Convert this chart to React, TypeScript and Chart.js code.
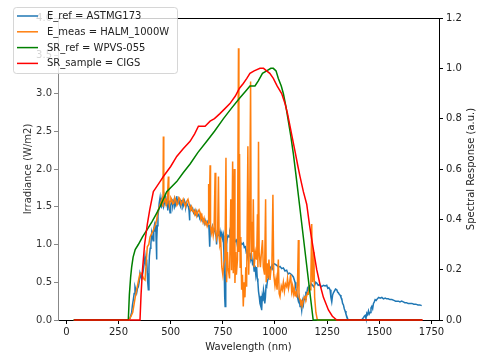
import { useEffect, useRef } from 'react';
import { Chart, registerables } from 'chart.js';

Chart.register(...registerables);

const seriesLabels = ['E_ref = ASTMG173', 'E_meas = HALM_1000W', 'SR_ref = WPVS-055', 'SR_sample = CIGS'];
const seriesColors = ['#1f77b4', '#ff7f0e', '#008000', '#ff0000'];

// [wavelength nm, irradiance W/m2]
const eRef: number[][] = [
  [35, 0], [300, 0], [305, 0.02], [309, 0.06], [313, 0.1], [317, 0.2], [321, 0.27], [325, 0.35], [329, 0.44], [333, 0.4], [337, 0.36], [341, 0.42], [345, 0.44], [349, 0.5], [353, 0.62], [357, 0.58], [361, 0.55], [365, 0.6], [369, 0.66], [373, 0.75], [377, 0.84], [381, 0.72], [385, 0.8], [388, 0.62], [390, 0.5], [393, 0.4], [396, 0.7], [398, 0.85], [402, 0.95], [405, 1.0], [409, 1.15], [412, 1.1], [416, 1.05], [419, 1.2], [422, 1.25], [425, 1.18], [428, 1.3], [430, 1.1], [432, 0.8], [434, 1.05], [436, 1.25], [439, 1.38], [442, 1.45], [445, 1.55], [449, 1.62], [452, 1.52], [456, 1.5], [459, 1.6], [462, 1.6], [466, 1.5], [470, 1.55], [473, 1.64], [476, 1.6], [479, 1.52], [481, 1.57], [484, 1.6], [486, 1.45], [488, 1.55], [490, 1.58], [494, 1.5], [497, 1.42], [500, 1.52], [503, 1.55], [506, 1.6], [510, 1.5], [513, 1.56], [517, 1.6], [520, 1.5], [523, 1.52], [526, 1.6], [529, 1.64], [532, 1.56], [535, 1.55], [538, 1.6], [541, 1.58], [545, 1.52], [548, 1.5], [551, 1.58], [555, 1.57], [559, 1.5], [563, 1.53], [566, 1.58], [570, 1.55], [573, 1.5], [577, 1.55], [581, 1.52], [585, 1.5], [588, 1.45], [590, 1.32], [592, 1.42], [595, 1.5], [600, 1.46], [605, 1.48], [610, 1.42], [615, 1.45], [620, 1.4], [625, 1.44], [630, 1.38], [635, 1.4], [640, 1.34], [645, 1.36], [651, 1.31], [657, 1.33], [661, 1.28], [665, 1.32], [670, 1.27], [675, 1.3], [679, 1.25], [683, 1.26], [687, 0.97], [690, 1.22], [695, 1.18], [700, 1.24], [705, 1.17], [710, 1.2], [714, 1.15], [718, 1.1], [720, 1.0], [723, 1.15], [727, 1.12], [730, 1.18], [734, 1.12], [737, 1.17], [741, 1.1], [745, 1.15], [749, 1.08], [752, 1.12], [755, 0.9], [757, 0.6], [759, 0.3], [761, 0.18], [764, 0.5], [766, 0.85], [768, 1.0], [771, 1.08], [775, 1.12], [780, 1.1], [784, 1.15], [790, 1.08], [795, 1.1], [800, 1.05], [805, 1.08], [810, 1.04], [816, 1.06], [819, 1.0], [822, 0.95], [826, 1.04], [830, 0.98], [835, 1.03], [841, 1.0], [848, 1.02], [853, 0.96], [858, 0.97], [862, 0.9], [866, 0.92], [869, 0.86], [872, 0.9], [876, 0.85], [880, 0.89], [884, 0.8], [888, 0.85], [892, 0.75], [896, 0.78], [900, 0.65], [904, 0.72], [908, 0.6], [912, 0.7], [915, 0.55], [918, 0.5], [921, 0.38], [925, 0.3], [928, 0.22], [930, 0.2], [933, 0.32], [936, 0.13], [939, 0.3], [942, 0.25], [945, 0.4], [948, 0.35], [951, 0.22], [954, 0.3], [957, 0.45], [960, 0.44], [964, 0.52], [968, 0.55], [972, 0.6], [976, 0.65], [980, 0.7], [985, 0.72], [988, 0.69], [992, 0.75], [1000, 0.74], [1010, 0.72], [1017, 0.7], [1024, 0.71], [1032, 0.68], [1040, 0.69], [1048, 0.65], [1056, 0.66], [1063, 0.61], [1070, 0.62], [1080, 0.6], [1088, 0.57], [1096, 0.5], [1100, 0.42], [1104, 0.36], [1108, 0.3], [1112, 0.25], [1116, 0.3], [1120, 0.18], [1124, 0.22], [1128, 0.13], [1132, 0.25], [1136, 0.2], [1140, 0.3], [1144, 0.27], [1148, 0.36], [1152, 0.35], [1156, 0.42], [1160, 0.4], [1164, 0.45], [1168, 0.44], [1174, 0.48], [1180, 0.46], [1185, 0.44], [1190, 0.46], [1195, 0.5], [1200, 0.49], [1207, 0.46], [1215, 0.47], [1222, 0.44], [1232, 0.46], [1240, 0.45], [1248, 0.46], [1253, 0.42], [1258, 0.43], [1264, 0.4], [1268, 0.3], [1272, 0.24], [1276, 0.33], [1280, 0.36], [1284, 0.38], [1290, 0.41], [1296, 0.4], [1300, 0.37], [1304, 0.36], [1308, 0.34], [1312, 0.33], [1316, 0.3], [1320, 0.28], [1324, 0.22], [1328, 0.2], [1332, 0.15], [1336, 0.12], [1340, 0.08], [1344, 0.05], [1348, 0.02], [1352, 0], [1416, 0], [1420, 0.02], [1424, 0.03], [1428, 0.05], [1432, 0.06], [1436, 0.02], [1440, 0.09], [1444, 0.07], [1448, 0.12], [1452, 0.08], [1456, 0.1], [1460, 0.16], [1464, 0.18], [1468, 0.15], [1472, 0.22], [1476, 0.24], [1480, 0.27], [1485, 0.26], [1490, 0.28], [1497, 0.3], [1504, 0.29], [1512, 0.3], [1520, 0.28], [1528, 0.29], [1535, 0.28], [1543, 0.28], [1551, 0.27], [1560, 0.27], [1570, 0.26], [1578, 0.25], [1585, 0.25], [1592, 0.25], [1599, 0.24], [1607, 0.25], [1615, 0.24], [1622, 0.23], [1630, 0.23], [1638, 0.22], [1647, 0.22], [1656, 0.22], [1665, 0.21], [1675, 0.21], [1685, 0.2], [1694, 0.2], [1703, 0.19],
];

// [wavelength nm, irradiance W/m2]
const eMeas: number[][] = [
  [35, 0], [300, 0], [310, 0.05], [318, 0.1], [330, 0.3], [345, 0.51], [353, 0.62], [361, 0.62], [370, 0.55], [377, 0.53], [388, 0.97], [395, 1.0], [401, 1.1], [410, 1.15], [417, 1.19], [425, 1.25], [433, 1.33], [440, 1.45], [446, 1.5], [452, 1.55], [458, 1.6], [463, 1.5], [465, 2.43], [467, 1.55], [471, 1.62], [475, 1.6], [479, 1.52], [483, 1.55], [489, 1.9], [491, 1.6], [494, 1.52], [497, 1.57], [501, 1.62], [505, 1.6], [510, 1.54], [515, 1.55], [520, 1.62], [525, 1.58], [530, 1.52], [535, 1.55], [540, 1.62], [545, 1.6], [550, 1.53], [555, 1.56], [560, 1.6], [565, 1.55], [571, 1.5], [577, 1.57], [583, 1.6], [590, 1.52], [595, 1.46], [600, 1.5], [605, 1.44], [610, 1.45], [615, 1.4], [620, 1.45], [625, 1.38], [630, 1.43], [636, 1.46], [641, 1.42], [645, 1.34], [650, 1.38], [655, 1.3], [660, 1.35], [665, 1.27], [670, 1.3], [675, 1.24], [680, 1.28], [682, 1.8], [684, 1.28], [689, 2.05], [691, 1.24], [695, 1.15], [700, 1.22], [704, 1.12], [708, 1.2], [713, 1.95], [716, 1.18], [720, 1.08], [725, 1.15], [729, 1.9], [732, 1.1], [736, 1.0], [740, 1.05], [745, 0.7], [750, 0.6], [755, 0.75], [760, 0.8], [765, 2.15], [768, 0.5], [772, 0.9], [775, 0.7], [782, 0.55], [788, 1.6], [792, 0.66], [797, 2.1], [800, 0.62], [805, 2.0], [808, 0.49], [812, 0.9], [815, 0.6], [820, 0.8], [825, 3.6], [827, 0.9], [830, 2.2], [833, 0.7], [836, 1.1], [840, 0.4], [844, 0.6], [848, 0.18], [852, 0.5], [856, 0.3], [860, 0.7], [864, 0.44], [870, 2.3], [874, 0.6], [878, 1.1], [883, 3.16], [886, 0.8], [890, 1.3], [893, 0.9], [896, 1.6], [900, 0.7], [906, 0.9], [912, 0.8], [916, 1.4], [918, 0.7], [921, 2.36], [924, 0.9], [930, 0.7], [935, 0.9], [940, 1.06], [944, 0.7], [950, 0.6], [955, 1.6], [958, 0.5], [962, 0.75], [966, 0.55], [971, 0.8], [976, 0.53], [980, 0.65], [985, 0.7], [990, 1.66], [994, 0.6], [1000, 0.45], [1005, 0.55], [1010, 0.4], [1016, 0.8], [1020, 0.35], [1024, 0.31], [1030, 0.45], [1035, 0.4], [1040, 0.5], [1045, 0.38], [1050, 0.48], [1056, 0.44], [1060, 0.55], [1065, 0.42], [1070, 0.5], [1075, 0.6], [1080, 0.38], [1084, 0.45], [1088, 0.35], [1092, 0.42], [1096, 0.32], [1100, 0.38], [1104, 0.3], [1108, 0.5], [1112, 1.06], [1115, 0.3], [1120, 0.27], [1124, 0.22], [1128, 0.24], [1132, 0.2], [1135, 0.25], [1140, 0.3], [1144, 0.31], [1148, 0.28], [1152, 0.32], [1156, 0.36], [1160, 0.35], [1164, 0.42], [1168, 0.4], [1172, 0.55], [1176, 1.27], [1180, 0.5], [1183, 0.6], [1186, 0.9], [1190, 0.3], [1196, 0.1], [1203, 0], [1705, 0],
];

// [wavelength nm, relative spectral response]
const srRef: number[][] = [
  [35, 0], [297, 0], [302, 0.1], [308, 0.17], [313, 0.21], [320, 0.25], [330, 0.28], [345, 0.3], [365, 0.33], [388, 0.36], [410, 0.39], [430, 0.42], [449, 0.45], [481, 0.51], [529, 0.55], [560, 0.585], [593, 0.62], [630, 0.665], [673, 0.71], [710, 0.75], [753, 0.8], [790, 0.84], [829, 0.88], [860, 0.91], [880, 0.93], [904, 0.93], [920, 0.95], [940, 0.98], [960, 0.99], [980, 1.0], [992, 1.0], [1005, 0.99], [1016, 0.96], [1030, 0.93], [1040, 0.9], [1052, 0.85], [1064, 0.79], [1076, 0.73], [1088, 0.66], [1100, 0.58], [1120, 0.44], [1140, 0.3], [1160, 0.16], [1183, 0], [1705, 0],
];

// [wavelength nm, relative spectral response]
const srSample: number[][] = [
  [37, 0], [353, 0], [358, 0.1], [365, 0.2], [375, 0.3], [388, 0.38], [400, 0.44], [417, 0.51], [425, 0.52], [449, 0.55], [465, 0.57], [500, 0.61], [529, 0.65], [560, 0.68], [593, 0.71], [615, 0.74], [633, 0.77], [650, 0.77], [665, 0.77], [689, 0.79], [710, 0.8], [736, 0.82], [760, 0.84], [784, 0.86], [810, 0.89], [829, 0.92], [848, 0.94], [865, 0.96], [880, 0.98], [900, 0.99], [928, 1.0], [945, 1.0], [960, 0.99], [975, 0.98], [992, 0.96], [1010, 0.93], [1032, 0.9], [1048, 0.86], [1060, 0.82], [1072, 0.77], [1084, 0.72], [1096, 0.67], [1110, 0.61], [1120, 0.57], [1136, 0.51], [1152, 0.46], [1165, 0.38], [1176, 0.32], [1190, 0.25], [1200, 0.2], [1216, 0.14], [1232, 0.09], [1256, 0.04], [1275, 0.015], [1296, 0], [1708, 0],
];

const xTicks = [0, 250, 500, 750, 1000, 1250, 1500, 1750];
const leftTicks = [0, 0.5, 1.0, 1.5, 2.0, 2.5, 3.0, 3.5, 4.0];
const rightTicks = [0, 0.2, 0.4, 0.6, 0.8, 1.0, 1.2];

const FONT = '"DejaVu Sans", sans-serif';

const pts = (rows: number[][]) => rows.map(([x, y]) => ({ x, y }));

const framePlugin = {
  id: 'frame',
  afterDraw(chart: any) {
    const { ctx, chartArea: a } = chart;
    ctx.save();
    ctx.strokeStyle = '#000';
    ctx.lineWidth = 1;
    ctx.beginPath();
    ctx.moveTo(a.left, Math.round(a.top) + 0.5);
    ctx.lineTo(a.right, Math.round(a.top) + 0.5);
    ctx.stroke();

    ctx.save();
    ctx.font = '10px ' + FONT;
    ctx.fillStyle = '#222';
    ctx.textAlign = 'center';
    ctx.textBaseline = 'middle';
    ctx.translate(471, (a.top + a.bottom) / 2);
    ctx.rotate(-Math.PI / 2);
    ctx.fillText('Spectral Response (a.u.)', 0, 0);
    ctx.restore();

    // legend
    const bx = 13.5, by = 7.5, bw = 164, bh = 66, r = 3;
    ctx.beginPath();
    ctx.moveTo(bx + r, by);
    ctx.lineTo(bx + bw - r, by);
    ctx.quadraticCurveTo(bx + bw, by, bx + bw, by + r);
    ctx.lineTo(bx + bw, by + bh - r);
    ctx.quadraticCurveTo(bx + bw, by + bh, bx + bw - r, by + bh);
    ctx.lineTo(bx + r, by + bh);
    ctx.quadraticCurveTo(bx, by + bh, bx, by + bh - r);
    ctx.lineTo(bx, by + r);
    ctx.quadraticCurveTo(bx, by, bx + r, by);
    ctx.closePath();
    ctx.fillStyle = 'rgba(255,255,255,0.8)';
    ctx.fill();
    ctx.strokeStyle = 'rgba(204,204,204,0.8)';
    ctx.lineWidth = 1;
    ctx.stroke();

    ctx.font = '10px ' + FONT;
    ctx.textAlign = 'left';
    ctx.textBaseline = 'middle';
    chart.data.datasets.forEach((ds: any, i: number) => {
      const y = 16 + i * 15.8;
      ctx.strokeStyle = ds.borderColor;
      ctx.lineWidth = ds.borderWidth;
      ctx.beginPath();
      ctx.moveTo(17, y);
      ctx.lineTo(38, y);
      ctx.stroke();
      ctx.fillStyle = '#222';
      ctx.fillText(ds.label, 47, y + 0.5);
    });
    ctx.restore();
  },
};

export default function App() {
  const ref = useRef<HTMLCanvasElement>(null);
  useEffect(() => {
    if (!ref.current) return;
    const mk = (i: number, data: any[], axis: string, order: number, bw = 1.5) => ({
      label: seriesLabels[i],
      data,
      yAxisID: axis,
      borderColor: seriesColors[i],
      backgroundColor: seriesColors[i],
      borderWidth: bw,
      pointRadius: 0,
      tension: 0,
      fill: false,
      clip: false as any,
      order,
    });
    const chart = new Chart(ref.current, {
      type: 'line',
      data: {
        datasets: [
          mk(0, pts(eRef), 'yL', 4),
          mk(1, pts(eMeas), 'yL', 3),
          mk(2, pts(srRef), 'yR', 2),
          mk(3, pts(srSample), 'yR', 1),
        ],
      },
      options: {
        animation: false,
        responsive: false,
        devicePixelRatio: 1,
        parsing: false as any,
        normalized: true,
        layout: { padding: { top: 18, left: 0, right: 0, bottom: 0 } },
        plugins: { legend: { display: false }, tooltip: { enabled: false } },
        scales: {
          x: {
            type: 'linear',
            min: -40,
            max: 1786,
            afterBuildTicks: (s: any) => { s.ticks = xTicks.map((v) => ({ value: v })); },
            afterFit: (s: any) => { s.height = 34; },
            grid: { drawOnChartArea: false, drawTicks: true, tickLength: 4, color: '#000' },
            border: { display: true, color: '#000', width: 1 },
            ticks: { color: '#222', font: { family: FONT, size: 10 }, padding: 2, maxRotation: 0, autoSkip: false, callback: (v: any) => String(v) },
            title: { display: true, text: 'Wavelength (nm)', color: '#222', font: { family: FONT, size: 10 }, padding: { top: 0, bottom: 1 } },
          },
          yL: {
            type: 'linear',
            position: 'left',
            min: 0,
            max: 4,
            afterBuildTicks: (s: any) => { s.ticks = leftTicks.map((v) => ({ value: v })); },
            afterFit: (s: any) => { s.width = 58; },
            grid: { drawOnChartArea: false, drawTicks: true, tickLength: 4, color: '#888' },
            border: { display: true, color: '#888', width: 1 },
            ticks: { color: '#333', font: { family: FONT, size: 10 }, padding: 2, callback: (v: any) => Number(v).toFixed(1) },
            title: { display: true, text: 'Irradiance (W/m2)', color: '#333', font: { family: FONT, size: 10 }, padding: { top: 22, bottom: 0 } },
          },
          yR: {
            type: 'linear',
            position: 'right',
            min: 0,
            max: 1.2,
            afterBuildTicks: (s: any) => { s.ticks = rightTicks.map((v) => ({ value: v })); },
            afterFit: (s: any) => { s.width = 41; },
            grid: { drawOnChartArea: false, drawTicks: true, tickLength: 4, color: '#000' },
            border: { display: true, color: '#000', width: 1 },
            ticks: { color: '#222', font: { family: FONT, size: 10 }, padding: 3, callback: (v: any) => Number(v).toFixed(1) },
          },
        },
      },
      plugins: [framePlugin],
    });
    return () => chart.destroy();
  }, []);
  return (
    <div style={{ position: 'absolute', left: 0, top: 0, width: 480, height: 354, background: '#fff' }}>
      <canvas ref={ref} width={480} height={354} style={{ display: 'block', width: 480, height: 354 }} />
    </div>
  );
}
